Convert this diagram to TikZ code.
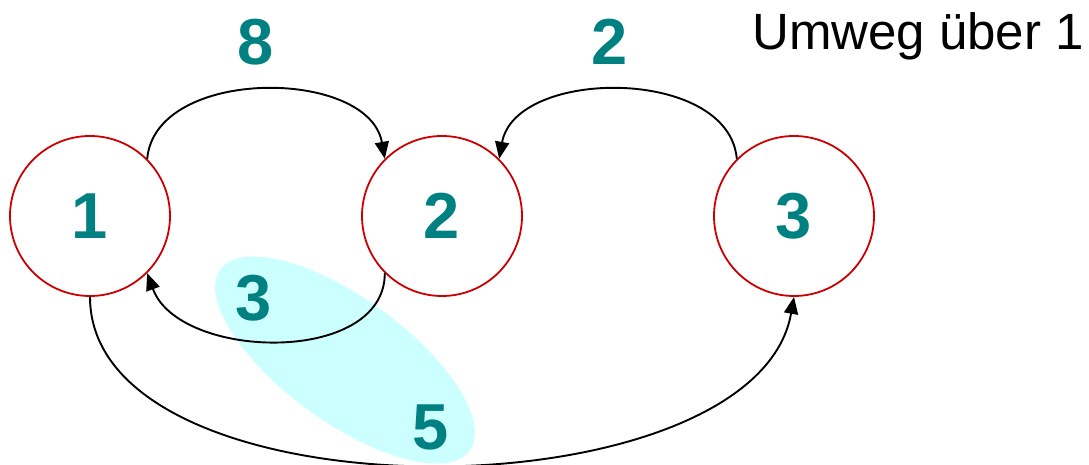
\documentclass[tikz,border=0pt]{standalone}
\usepackage{fontspec}
\setmainfont{Liberation Sans}
\usetikzlibrary{arrows.meta}

\definecolor{gteal}{RGB}{0,128,128}
\definecolor{gred}{RGB}{204,0,0}
\definecolor{gcyan}{RGB}{204,255,255}

\tikzset{
  state/.style={circle, draw=gred, line width=1.8pt, minimum size=160pt, inner sep=0pt,
    text=gteal, font=\fontsize{65}{78}\selectfont\bfseries},
  weight/.style={text=gteal, font=\fontsize{65}{78}\selectfont\bfseries, inner sep=0pt},
  edge/.style={line width=1.9pt, -{Triangle[length=17pt,width=14pt]}}
}

\begin{document}
\begin{tikzpicture}[x=1pt, y=1pt]
    \useasboundingbox (0,0) rectangle (1089,465);

    % Highlight of the detour
    \fill[gcyan] (345,105) ellipse[x radius=154, y radius=62, rotate=-36];

    % Define states
    \node[state] (n1) at (90,249) {1};
    \node[state] (n2) at (442,249) {2};
    \node[state] (n3) at (794,249) {3};

    % Draw edges
    \draw[edge] (n1.45) to[out=85, in=100] (n2.135);
    \draw[edge] (n3.135) to[out=95, in=80] (n2.45);
    \draw[edge] (n2.225) to[out=-90, in=-70] (n1.-45);
    \draw[edge] (n1.south) to[out=-90, in=-100, looseness=0.82] (n3.south);

    % Edge weights
    \node[weight] (w12) at (256,423) {8};
    \node[weight] (w32) at (610,423) {2};
    \node[weight] (w21) at (254,167) {3};
    \node[weight] (w13) at (431,38) {5};

    % Note
    \node[anchor=base west, inner sep=0pt, font=\fontsize{51}{61}\selectfont] (note) at (752,415) {Umweg über 1};
\end{tikzpicture}
\end{document}
